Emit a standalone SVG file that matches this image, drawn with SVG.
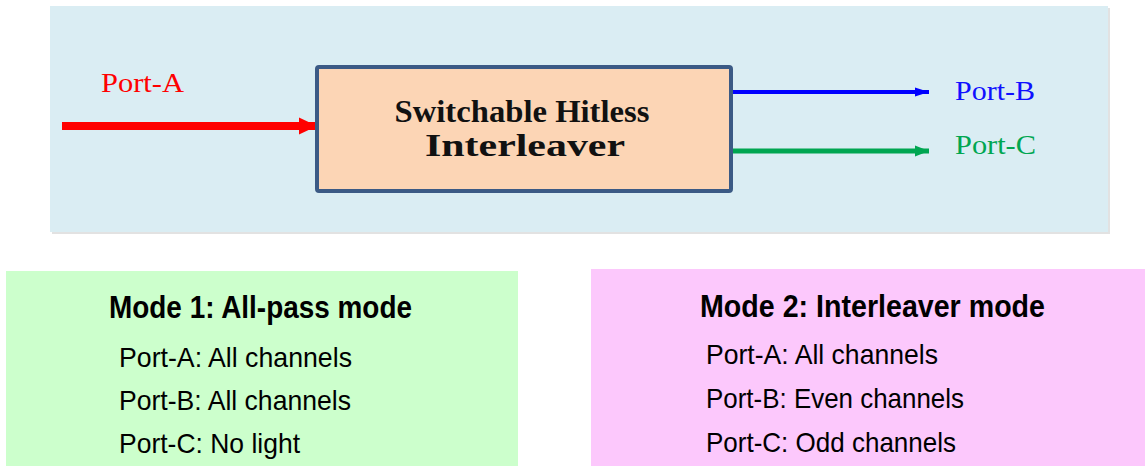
<svg xmlns="http://www.w3.org/2000/svg" width="1145" height="466" viewBox="0 0 1145 466">
  <style>
    .serif { font-family: "Liberation Serif", "Times New Roman", serif; }
    .sans { font-family: "Liberation Sans", Arial, sans-serif; fill: #000; }
    .title { font-size: 32px; font-weight: bold; }
    .item { font-size: 28px; }
    .port { font-size: 28px; }
  </style>
  <defs>
    <marker id="headRed" markerUnits="userSpaceOnUse" markerWidth="20" markerHeight="20" refX="18" refY="10" orient="auto">
      <path d="M0,1.5 L18,10 L0,18.5 Z" fill="#ff0000"/>
    </marker>
    <marker id="headBlue" markerUnits="userSpaceOnUse" markerWidth="16" markerHeight="12" refX="14" refY="6" orient="auto">
      <path d="M0,1.5 L14,6 L0,10.5 Z" fill="#0000ff"/>
    </marker>
    <marker id="headGreen" markerUnits="userSpaceOnUse" markerWidth="16" markerHeight="14" refX="14" refY="7" orient="auto">
      <path d="M0,1.5 L14,7 L0,12.5 Z" fill="#00a651"/>
    </marker>
  </defs>

  <rect width="1145" height="466" fill="#ffffff"/>

  <g id="panel">
    <rect x="52" y="8" width="1058" height="226" fill="#e2e2e2"/>
    <rect x="50" y="6" width="1058" height="226" fill="#daedf3"/>
  </g>

  <g id="connectors">
    <line x1="62" y1="126" x2="317" y2="126" stroke="#ff0000" stroke-width="8" marker-end="url(#headRed)"/>
    <line x1="732" y1="92" x2="929" y2="92" stroke="#0000ff" stroke-width="4" marker-end="url(#headBlue)"/>
    <line x1="732" y1="151" x2="929" y2="151" stroke="#00a651" stroke-width="5" marker-end="url(#headGreen)"/>
  </g>

  <g id="interleaver">
    <rect x="317" y="67" width="414" height="124" fill="#fcd5b5" stroke="#3b5a85" stroke-width="4" rx="2"/>
    <text class="serif" x="522" y="122" font-size="32" font-weight="bold" text-anchor="middle" textLength="255" lengthAdjust="spacingAndGlyphs" fill="#111">Switchable Hitless</text>
    <text class="serif" x="525" y="156" font-size="32" font-weight="bold" text-anchor="middle" textLength="200" lengthAdjust="spacingAndGlyphs" fill="#111">Interleaver</text>
  </g>

  <g id="port-a">
    <text class="serif port" x="101" y="92" fill="#ff0000" textLength="83" lengthAdjust="spacingAndGlyphs">Port-A</text>
  </g>
  <g id="port-b">
    <text class="serif port" x="955" y="100" fill="#1010ff" textLength="80" lengthAdjust="spacingAndGlyphs">Port-B</text>
  </g>
  <g id="port-c">
    <text class="serif port" x="955" y="154" fill="#00a651" textLength="81" lengthAdjust="spacingAndGlyphs">Port-C</text>
  </g>

  <g id="mode1">
    <rect x="6" y="271" width="512" height="195" fill="#ccffcc"/>
    <text class="sans title" x="109" y="318" textLength="303" lengthAdjust="spacingAndGlyphs">Mode 1: All-pass mode</text>
    <text class="sans item" x="119" y="367" textLength="233" lengthAdjust="spacingAndGlyphs">Port-A: All channels</text>
    <text class="sans item" x="119" y="410" textLength="232" lengthAdjust="spacingAndGlyphs">Port-B: All channels</text>
    <text class="sans item" x="119" y="453" textLength="181" lengthAdjust="spacingAndGlyphs">Port-C: No light</text>
  </g>

  <g id="mode2">
    <rect x="591" y="269" width="554" height="197" fill="#fcc8fc"/>
    <text class="sans title" x="700" y="317" textLength="345" lengthAdjust="spacingAndGlyphs">Mode 2: Interleaver mode</text>
    <text class="sans item" x="706" y="364" textLength="232" lengthAdjust="spacingAndGlyphs">Port-A: All channels</text>
    <text class="sans item" x="706" y="408" textLength="258" lengthAdjust="spacingAndGlyphs">Port-B: Even channels</text>
    <text class="sans item" x="706" y="452" textLength="250" lengthAdjust="spacingAndGlyphs">Port-C: Odd channels</text>
  </g>
</svg>
